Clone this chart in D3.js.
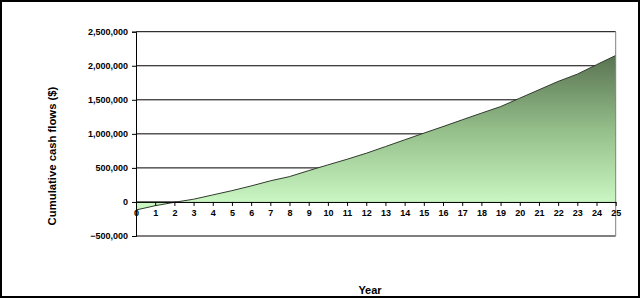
<!DOCTYPE html>
<html>
<head>
<meta charset="utf-8">
<script src="https://cdn.jsdelivr.net/npm/d3@7"></script>
<style>
  body { margin: 0; background: #fff; }
  svg text { font-family: Arial, "Liberation Sans", sans-serif; font-weight: bold; fill: #000; }
</style>
</head>
<body>
<div id="chart"></div>
<script>
// data
var years = d3.range(0, 26);
var cashFlows = [-118000, -55000, -5000, 40000, 103000, 166000, 235000, 310000, 372000, 460000,
                 544000, 627000, 715000, 813000, 912000, 1010000, 1107000, 1206000, 1304000, 1400000,
                 1524000, 1647000, 1770000, 1877000, 2015000, 2151000];
var yTicks = [-500000, 0, 500000, 1000000, 1500000, 2000000, 2500000];

var largeur = 640, hauteur = 298;
var svg = d3.select("#chart").append("svg")
  .attr("width", largeur)
  .attr("height", hauteur);

// cadre extérieur
svg.append("rect")
  .attr("x", 1).attr("y", 1)
  .attr("width", largeur - 2).attr("height", hauteur - 2)
  .attr("fill", "#fff").attr("stroke", "#000").attr("stroke-width", 2);

var x = d3.scaleLinear().domain([0, 25]).range([136, 615.7]);
var y = d3.scaleLinear().domain([-500000, 2500000]).range([236, 31.7]);

// dégradé vertical pour l'aire
var defs = svg.append("defs");
var grad = defs.append("linearGradient")
  .attr("id", "vert")
  .attr("gradientUnits", "userSpaceOnUse")
  .attr("x1", 0).attr("x2", 0)
  .attr("y1", y(2151000)).attr("y2", y(0));
grad.append("stop").attr("offset", "0%").attr("stop-color", "#5a7352");
grad.append("stop").attr("offset", "50%").attr("stop-color", "#93bd89");
grad.append("stop").attr("offset", "100%").attr("stop-color", "#c9f6c2");

var pts = years.map(function(d, i){ return {an: d, v: cashFlows[i]}; });

// lignes horizontales
svg.append("g").selectAll("line")
  .data(yTicks)
  .enter().append("line")
  .attr("x1", x(0)).attr("x2", x(25))
  .attr("y1", function(d){ return y(d); })
  .attr("y2", function(d){ return y(d); })
  .attr("stroke", "#000").attr("stroke-width", 1);

// aire
var aire = d3.area()
  .x(function(d){ return x(d.an); })
  .y0(y(0))
  .y1(function(d){ return y(d.v); });
svg.append("path")
  .datum(pts)
  .attr("d", aire)
  .attr("fill", "url(#vert)");

var ligne = d3.line()
  .x(function(d){ return x(d.an); })
  .y(function(d){ return y(d.v); });
svg.append("path")
  .datum(pts)
  .attr("d", ligne)
  .attr("fill", "none")
  .attr("stroke", "#2f3a2c")
  .attr("stroke-width", 1);

// bord droit du graphe
svg.append("line")
  .attr("x1", x(25)).attr("x2", x(25))
  .attr("y1", y(2500000)).attr("y2", y(-500000))
  .attr("stroke", "#808080").attr("stroke-width", 1);

// axe y
var yAxis = d3.axisLeft(y)
  .tickValues(yTicks)
  .tickSize(4)
  .tickPadding(4)
  .tickFormat(d3.format(","));
var gy = svg.append("g")
  .attr("transform", "translate(" + x(0) + ",0)")
  .call(yAxis);
gy.select(".domain").attr("stroke", "#000");
gy.selectAll("text").attr("font-size", "9px");

// axe x sur la ligne zéro
var xAxis = d3.axisBottom(x)
  .tickValues(years)
  .tickSize(4)
  .tickSizeOuter(0)
  .tickPadding(4);
var gx = svg.append("g")
  .attr("transform", "translate(0," + y(0) + ")")
  .call(xAxis);
gx.select(".domain").attr("stroke", "#000");
gx.selectAll("text").attr("font-size", "9px");

// titres
svg.append("text")
  .attr("transform", "translate(56,156) rotate(-90)")
  .attr("text-anchor", "middle")
  .attr("font-size", "11.3px")
  .text("Cumulative cash flows ($)");

svg.append("text")
  .attr("x", 370).attr("y", 294)
  .attr("text-anchor", "middle")
  .attr("font-size", "11px")
  .text("Year");
</script>
</body>
</html>
